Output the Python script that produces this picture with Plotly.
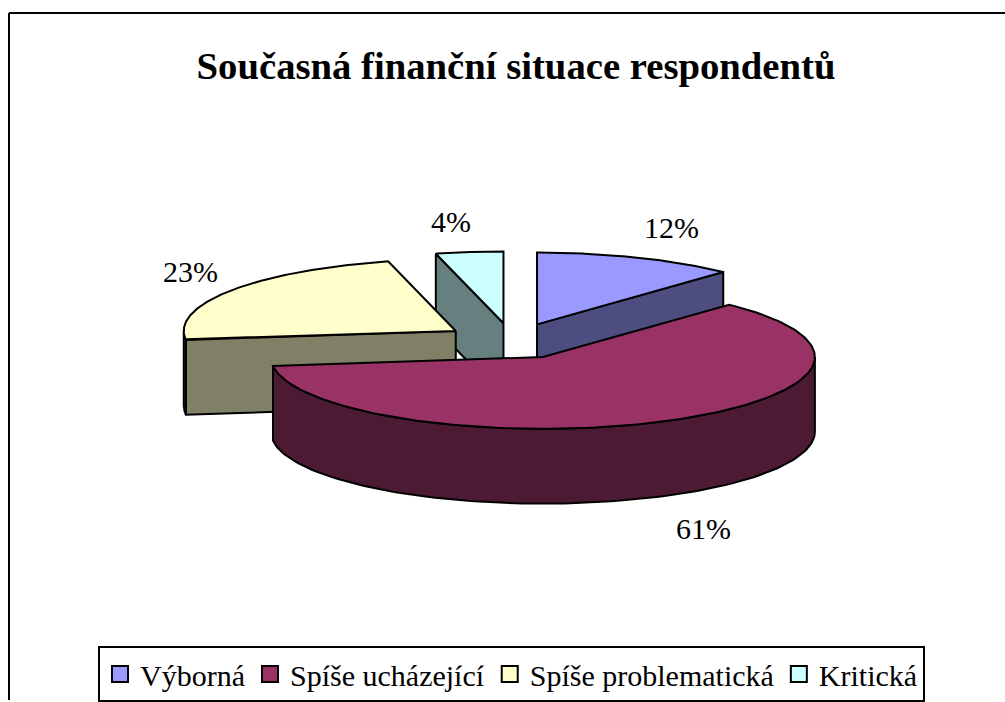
import numpy as np
import plotly.graph_objects as go

categories = ["Výborná", "Spíše ucházející", "Spíše problematická", "Kritická"]
values = [12, 61, 23, 4]
top_colors = ["#9999FF", "#993366", "#FFFFCC", "#CCFFFF"]
wall_colors = ["#4D4D80", "#4D1A33", "#808066", "#668080"]
title_text = "Současná finanční situace respondentů"
label_positions = [(671, 228), (703, 530), (190, 272), (451, 222)]

W, H = 1005, 702
CX, CY = 512, 342      # pie centre
RX, RY = 272, 72       # ellipse radii
DEPTH = 75
EXPLODE = 0.25
DRAW_ORDER = [3, 0, 2, 1]
FONT = "Liberation Serif"


def pt(cx, cy, deg):
    a = np.radians(deg)
    return cx + RX * np.sin(a), cy - RY * np.cos(a)


def poly(xs, ys, color):
    return go.Scatter(x=list(xs), y=list(ys), mode="lines", fill="toself", fillcolor=color,
                      line=dict(color="black", width=2), hoverinfo="skip", showlegend=False)


total = sum(values)
edges = np.concatenate([[0], np.cumsum(values)]) / total * 360

fig = go.Figure()
for i in DRAW_ORDER:
    a0, a1 = edges[i], edges[i + 1]
    mid = (a0 + a1) / 2
    cx = CX + EXPLODE * RX * np.sin(np.radians(mid))
    cy = CY - EXPLODE * RY * np.cos(np.radians(mid))
    # visible radial cut faces
    for ang, visible in ((a0, 180 < a0 < 360), (a1, 0 < a1 < 180)):
        if visible:
            ex, ey = pt(cx, cy, ang)
            fig.add_trace(poly([cx, ex, ex, cx, cx], [cy, ey, ey + DEPTH, cy + DEPTH, cy], wall_colors[i]))
    # visible outer wall
    lo, hi = max(a0, 90), min(a1, 270)
    if hi > lo:
        t = np.linspace(lo, hi, 120)
        ex, ey = pt(cx, cy, t)
        fig.add_trace(poly(np.r_[ex, ex[::-1], ex[0]], np.r_[ey, ey[::-1] + DEPTH, ey[0]], wall_colors[i]))
    # top face
    t = np.linspace(a0, a1, 160)
    ex, ey = pt(cx, cy, t)
    fig.add_trace(poly(np.r_[cx, ex, cx], np.r_[cy, ey, cy], top_colors[i]))

for name, color in zip(categories, top_colors):
    fig.add_trace(go.Scatter(x=[None], y=[None], mode="markers", name=name,
                             marker=dict(symbol="square", size=17, color=color,
                                         line=dict(color="black", width=2))))

for v, (lx, ly) in zip(values, label_positions):
    fig.add_annotation(x=lx, y=ly, text=f"{v}%", showarrow=False,
                       font=dict(family=FONT, size=30, color="black"))

fig.add_shape(type="line", x0=9, y0=13, x1=1005, y1=13, line=dict(color="black", width=2), layer="below")
fig.add_shape(type="line", x0=9, y0=13, x1=9, y1=702, line=dict(color="black", width=2), layer="below")

fig.update_layout(
    width=W, height=H, margin=dict(l=0, r=0, t=0, b=0), autosize=False,
    paper_bgcolor="white", plot_bgcolor="white",
    title=dict(text=f"<b>{title_text}</b>", x=516 / W, xanchor="center", y=1 - 65 / H, yanchor="middle",
               font=dict(family=FONT, size=38.7, color="black")),
    xaxis=dict(range=[0, W], visible=False, fixedrange=True),
    yaxis=dict(range=[H, 0], visible=False, fixedrange=True),
    legend=dict(orientation="h", x=511.5 / W, xanchor="center", y=1 - 648 / H, yanchor="top",
                bgcolor="white", bordercolor="black", borderwidth=2,
                font=dict(family=FONT, size=30, color="black"), itemwidth=30, traceorder="normal"),
)
fig.write_html("out.html", config={"displayModeBar": False},
               post_script="document.body.style.margin='0';document.body.style.overflow='hidden';")
